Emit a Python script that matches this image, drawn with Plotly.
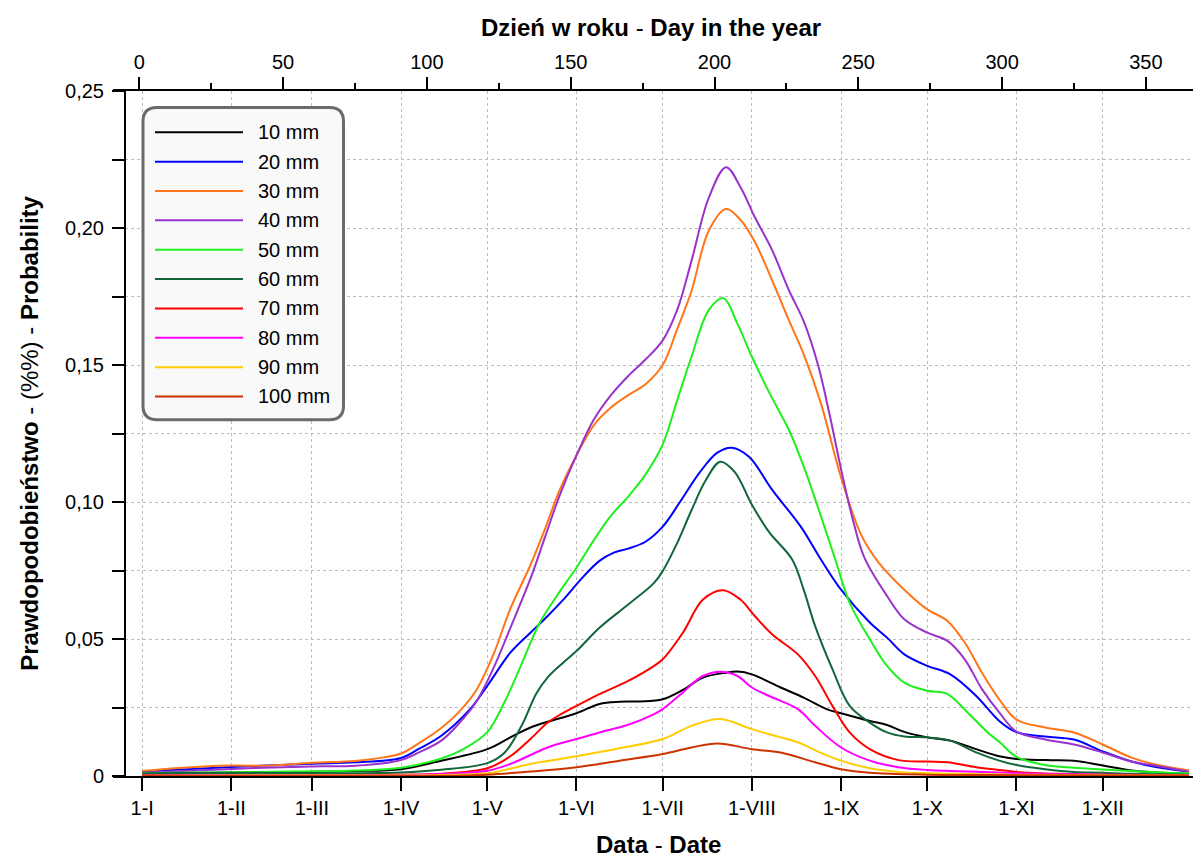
import plotly.graph_objects as go

# ---------------- data ----------------
names = ["10 mm", "20 mm", "30 mm", "40 mm", "50 mm", "60 mm", "70 mm", "80 mm", "90 mm", "100 mm"]
colors = ["#000000", "#0000ff", "#ff7518", "#9933cc", "#1ef01e", "#11663a", "#ff0000", "#ff00ff", "#ffcc00", "#cc3300"]

D10 = [1, 32, 60, 75, 91, 105, 121, 129, 136, 142, 152, 160, 167, 174, 182, 189, 196, 204, 208, 213, 223, 231, 239, 244, 254, 260, 266, 274, 282, 291, 299, 305, 315, 325, 335, 345, 355, 365]
P10 = [0.0008, 0.0012, 0.0015, 0.0018, 0.0025, 0.0056, 0.0098, 0.0141, 0.0177, 0.0198, 0.0229, 0.0263, 0.0271, 0.0272, 0.0280, 0.0314, 0.0359, 0.0377, 0.0381, 0.0371, 0.0323, 0.0286, 0.0244, 0.0229, 0.0201, 0.0186, 0.0161, 0.0141, 0.0129, 0.0098, 0.0072, 0.0062, 0.0058, 0.0056, 0.0038, 0.002, 0.0012, 0.0008]

D20 = [1, 32, 60, 75, 91, 97, 105, 115, 121, 129, 136, 142, 148, 154, 160, 165, 170, 176, 182, 188, 195, 201, 206, 212, 220, 230, 237, 244, 254, 260, 266, 274, 282, 291, 299, 305, 315, 325, 335, 345, 355, 365]
P20 = [0.0016, 0.0033, 0.0045, 0.005, 0.0066, 0.0098, 0.0147, 0.0244, 0.0329, 0.045, 0.0523, 0.0584, 0.065, 0.0723, 0.0785, 0.0815, 0.083, 0.0855, 0.091, 0.100, 0.111, 0.118, 0.1198, 0.1165, 0.1045, 0.091, 0.079, 0.068, 0.056, 0.0505, 0.0444, 0.0402, 0.0371, 0.0292, 0.0201, 0.016, 0.0144, 0.0133, 0.009, 0.0053, 0.003, 0.0016]

D30 = [1, 15, 32, 46, 60, 75, 85, 91, 97, 105, 111, 117, 123, 129, 136, 141, 146, 152, 158, 164, 170, 176, 182, 187, 192, 198, 204, 209, 214, 220, 226, 231, 237, 244, 251, 257, 266, 274, 281, 287, 293, 299, 305, 315, 325, 335, 345, 355, 365]
P30 = [0.0018, 0.003, 0.0038, 0.0038, 0.0048, 0.0055, 0.0068, 0.0082, 0.0118, 0.0175, 0.0232, 0.031, 0.044, 0.061, 0.077, 0.090, 0.104, 0.117, 0.128, 0.1345, 0.139, 0.143, 0.150, 0.163, 0.177, 0.199, 0.2069, 0.203, 0.195, 0.181, 0.166, 0.154, 0.136, 0.109, 0.088, 0.078, 0.068, 0.0608, 0.0566, 0.0487, 0.0377, 0.028, 0.0206, 0.0177, 0.0159, 0.0115, 0.0067, 0.0038, 0.002]

D40 = [1, 32, 60, 75, 91, 97, 105, 111, 117, 123, 129, 136, 141, 146, 152, 158, 164, 170, 176, 182, 187, 192, 198, 204, 209, 214, 220, 226, 231, 236, 240, 244, 248, 252, 260, 266, 274, 281, 287, 293, 299, 305, 315, 325, 335, 345, 355, 365]
P40 = [0.0012, 0.0026, 0.0035, 0.0037, 0.0058, 0.0085, 0.0129, 0.019, 0.0268, 0.039, 0.054, 0.072, 0.087, 0.102, 0.117, 0.130, 0.139, 0.146, 0.152, 0.159, 0.170, 0.188, 0.211, 0.2222, 0.215, 0.204, 0.192, 0.177, 0.166, 0.150, 0.132, 0.112, 0.094, 0.080, 0.0657, 0.0572, 0.0523, 0.0493, 0.0426, 0.0317, 0.0232, 0.0162, 0.0133, 0.0115, 0.0086, 0.0053, 0.0035, 0.0016]

D50 = [1, 32, 60, 75, 91, 105, 113, 121, 127, 133, 139, 146, 152, 158, 164, 170, 176, 182, 187, 192, 198, 203, 208, 213, 219, 226, 231, 236, 242, 247, 254, 260, 266, 274, 281, 288, 295, 299, 305, 315, 325, 335, 345, 355, 365]
P50 = [0.0011, 0.0014, 0.0017, 0.002, 0.003, 0.0064, 0.010, 0.016, 0.027, 0.041, 0.0555, 0.067, 0.076, 0.086, 0.095, 0.102, 0.110, 0.121, 0.137, 0.153, 0.170, 0.1744, 0.165, 0.153, 0.140, 0.126, 0.113, 0.098, 0.079, 0.0632, 0.0499, 0.0402, 0.0341, 0.0311, 0.0299, 0.0232, 0.0159, 0.0125, 0.007, 0.004, 0.003, 0.0024, 0.0018, 0.0013, 0.001]

D60 = [1, 32, 60, 91, 105, 121, 127, 133, 138, 142, 147, 152, 160, 170, 179, 182, 187, 192, 197, 202, 207, 213, 219, 227, 231, 235, 241, 247, 254, 260, 266, 274, 282, 291, 299, 305, 315, 325, 335, 345, 365]
P60 = [0.001, 0.0012, 0.001, 0.0013, 0.0023, 0.0047, 0.0085, 0.0185, 0.030, 0.036, 0.041, 0.0456, 0.0541, 0.0626, 0.0705, 0.0748, 0.085, 0.097, 0.108, 0.1147, 0.111, 0.099, 0.089, 0.079, 0.068, 0.0547, 0.039, 0.0256, 0.0195, 0.0159, 0.0144, 0.0141, 0.0129, 0.0086, 0.0056, 0.004, 0.0025, 0.0015, 0.0012, 0.0008, 0.0005]

D70 = [1, 60, 91, 105, 121, 129, 136, 142, 147, 152, 160, 170, 179, 182, 189, 196, 203, 209, 214, 220, 229, 235, 241, 247, 254, 264, 274, 281, 291, 299, 305, 320, 335, 365]
P70 = [0.0003, 0.0003, 0.0005, 0.0008, 0.0028, 0.0072, 0.0135, 0.0195, 0.0228, 0.0256, 0.0299, 0.0347, 0.0402, 0.0426, 0.0523, 0.0644, 0.0678, 0.0644, 0.0584, 0.0517, 0.0444, 0.0365, 0.0256, 0.0159, 0.0098, 0.0058, 0.0053, 0.005, 0.0032, 0.0022, 0.0015, 0.0008, 0.0005, 0.0003]

D80 = [1, 91, 105, 121, 129, 142, 152, 160, 170, 179, 182, 189, 196, 203, 208, 213, 219, 229, 235, 244, 254, 264, 274, 299, 305, 335, 365]
P80 = [0.0002, 0.0003, 0.0007, 0.0019, 0.0044, 0.0104, 0.0135, 0.0159, 0.0187, 0.0226, 0.0244, 0.0305, 0.0365, 0.038, 0.0365, 0.0323, 0.0292, 0.0244, 0.0183, 0.0104, 0.0056, 0.0032, 0.0022, 0.0013, 0.001, 0.0005, 0.0003]

D90 = [1, 91, 105, 121, 136, 152, 167, 182, 192, 202, 213, 223, 229, 236, 244, 254, 266, 274, 305, 365]
P90 = [0.0001, 0.0002, 0.0004, 0.001, 0.0044, 0.0072, 0.0101, 0.0135, 0.0183, 0.0208, 0.0171, 0.0141, 0.0123, 0.0089, 0.0056, 0.0028, 0.0013, 0.001, 0.0005, 0.0002]

D100 = [1, 105, 121, 136, 152, 167, 182, 192, 201, 213, 223, 235, 244, 254, 274, 305, 365]
P100 = [0.0001, 0.0001, 0.0005, 0.0016, 0.0032, 0.0056, 0.008, 0.0104, 0.0119, 0.0098, 0.0086, 0.005, 0.0025, 0.0012, 0.0005, 0.0003, 0.0002]

month_days = [1, 32, 60, 91, 121, 152, 182, 213, 244, 274, 305, 335]
month_labels = ["1-I", "1-II", "1-III", "1-IV", "1-V", "1-VI", "1-VII", "1-VIII", "1-IX", "1-X", "1-XI", "1-XII"]
top_ticks = [0, 50, 100, 150, 200, 250, 300, 350]
y_ticks = [0, 0.05, 0.10, 0.15, 0.20, 0.25]
y_labels = ["0", "0,05", "0,10", "0,15", "0,20", "0,25"]

series_days = [D10, D20, D30, D40, D50, D60, D70, D80, D90, D100]
series_vals = [P10, P20, P30, P40, P50, P60, P70, P80, P90, P100]

# ---------------- geometry ----------------
W, H = 1193, 858
ML, MR, MT, MB = 113, 0, 91, 81.5
PW, PH = W - ML - MR, H - MT - MB
DAY0_PX, PX_PER_DAY = 139.3, 2.876
XR = [(ML - DAY0_PX) / PX_PER_DAY, (W - MR - DAY0_PX) / PX_PER_DAY]


def xp(px):
    return (px - ML) / PW


def yp(py):
    return (H - MB - py) / PH


FONT = "Liberation Sans, Arial, sans-serif"
GRID = "#bdbdbd"

fig = go.Figure()
for nm, col, dd, vv in zip(names, colors, series_days, series_vals):
    fig.add_trace(go.Scatter(x=dd, y=vv, mode="lines", name=nm,
                             line=dict(color=col, width=2, shape="spline", smoothing=1.0),
                             showlegend=False, hoverinfo="skip"))
fig.add_trace(go.Scatter(x=[], y=[], xaxis="x2", yaxis="y", showlegend=False))

tickfont = dict(family=FONT, size=20, color="black")

fig.update_layout(
    width=W, height=H,
    margin=dict(l=ML, r=MR, t=MT, b=MB, pad=0),
    paper_bgcolor="white", plot_bgcolor="white",
    font=dict(family=FONT, size=20, color="black"),
    xaxis=dict(domain=[0, 1], range=XR, tickmode="array", tickvals=month_days, ticktext=month_labels,
               ticks="outside", ticklen=13, tickwidth=2, tickcolor="black",
               showline=True, linecolor="black", linewidth=2,
               showgrid=True, gridcolor=GRID, griddash="dot", gridwidth=1,
               zeroline=False, tickfont=tickfont, anchor="y"),
    xaxis2=dict(overlaying="x", side="top", anchor="y", range=XR, tickmode="array", tickvals=top_ticks,
                ticks="outside", ticklen=12, tickwidth=2, tickcolor="black",
                minor=dict(dtick=25, tick0=0, ticklen=6, tickwidth=2, tickcolor="black", ticks="outside"),
                showline=True, linecolor="black", linewidth=2, showgrid=False, zeroline=False,
                tickfont=tickfont),
    yaxis=dict(anchor="free", position=xp(125), range=[0, 0.25], tickmode="array", tickvals=y_ticks,
               ticktext=y_labels, ticks="outside", ticklen=12, tickwidth=2, tickcolor="black",
               showline=True, linecolor="black", linewidth=2,
               showgrid=True, gridcolor=GRID, griddash="dot", gridwidth=1,
               minor=dict(dtick=0.025, tick0=0, ticklen=12, tickwidth=2, tickcolor="black", ticks="outside",
                          showgrid=True, gridcolor=GRID, griddash="dot", gridwidth=1),
               zeroline=False, tickfont=tickfont, ticklabelstandoff=4),
)

# axis titles
fig.add_annotation(x=xp(651), y=yp(27), xref="paper", yref="paper", showarrow=False,
                   text="<b>Dzień w roku</b> - <b>Day in the year</b>",
                   font=dict(family=FONT, size=24, color="black"), xanchor="center", yanchor="middle")
fig.add_annotation(x=xp(658.5), y=yp(845), xref="paper", yref="paper", showarrow=False,
                   text="<b>Data</b> - <b>Date</b>",
                   font=dict(family=FONT, size=24, color="black"), xanchor="center", yanchor="middle")
fig.add_annotation(x=xp(30), y=yp(434), xref="paper", yref="paper", showarrow=False, textangle=-90,
                   text="<b>Prawdopodobieństwo</b> - (%%) - <b>Probability</b>",
                   font=dict(family=FONT, size=24, color="black"), xanchor="center", yanchor="middle")

# legend box (rounded)
lx0, lx1, ly0, ly1, rr = 143, 343.5, 107.5, 420, 14
x0, x1 = xp(lx0), xp(lx1)
yT, yB = yp(ly0), yp(ly1)
rx, ry = rr / PW, rr / PH
path = (f"M {x0+rx},{yT} L {x1-rx},{yT} Q {x1},{yT} {x1},{yT-ry} "
        f"L {x1},{yB+ry} Q {x1},{yB} {x1-rx},{yB} "
        f"L {x0+rx},{yB} Q {x0},{yB} {x0},{yB+ry} "
        f"L {x0},{yT-ry} Q {x0},{yT} {x0+rx},{yT} Z")
fig.add_shape(type="path", path=path, xref="paper", yref="paper",
              line=dict(color="#6b6b6b", width=3), fillcolor="#f9f9f9", layer="above")
row0, step = 132.3, 29.38
for i, (nm, col) in enumerate(zip(names, colors)):
    yy = yp(row0 + i * step)
    fig.add_shape(type="line", xref="paper", yref="paper", x0=xp(155), x1=xp(243), y0=yy, y1=yy,
                  line=dict(color=col, width=2), layer="above")
    fig.add_annotation(x=xp(256), y=yy, xref="paper", yref="paper", showarrow=False, text=nm,
                       xanchor="left", yanchor="middle", font=dict(family=FONT, size=20, color="black"))

fig.write_html("out.html")
